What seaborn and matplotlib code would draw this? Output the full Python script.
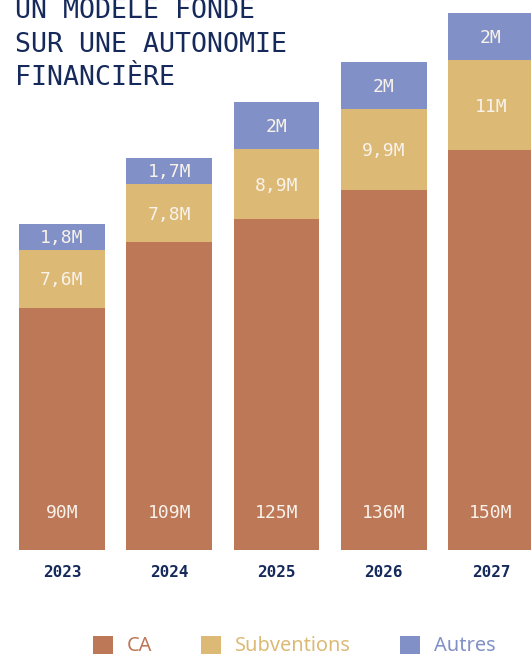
import numpy as np
import pandas as pd
import matplotlib
matplotlib.use("Agg")
import matplotlib.pyplot as plt
import matplotlib.transforms as mtransforms
from matplotlib.patches import Patch
import seaborn as sns

# ---------------- data ----------------
years = ["2023", "2024", "2025", "2026", "2027"]
series = ["CA", "Subventions", "Autres"]
ca_labels = ["90M", "109M", "125M", "136M", "150M"]
subv_labels = ["7,6M", "7,8M", "8,9M", "9,9M", "11M"]
autres_labels = ["1,8M", "1,7M", "2M", "2M", "2M"]
# segment heights as drawn in the reference (chart units ~ CA millions)
ca_height = [90.8, 115.5, 124.1, 135.0, 150.0]
subv_height = [21.8, 21.8, 26.3, 30.4, 33.8]
autres_height = [9.8, 9.8, 17.6, 17.6, 17.6]
title_lines = ["UN MODÈLE FONDÉ", "SUR UNE AUTONOMIE", "FINANCIÈRE"]

# ---------------- style ----------------
colors = ["#BD7858", "#DCBA76", "#8191C7"]
navy = "#16295B"
label_col = "#F8F2EA"
MONO = "DejaVu Sans Mono"

sns.set_style("white")
plt.rcParams["font.family"] = ["DejaVu Sans"]

W, H = 531, 656
fig = plt.figure(figsize=(W / 100, H / 100), dpi=100)
base_px = 550
ax = fig.add_axes([0, (H - base_px) / H, 1, base_px / H])

df = pd.DataFrame({
    "year": years,
    "ca": ca_height,
    "cs": np.array(ca_height) + np.array(subv_height),
    "tot": np.array(ca_height) + np.array(subv_height) + np.array(autres_height),
})

bw = 0.80
for col, c in [("tot", colors[2]), ("cs", colors[1]), ("ca", colors[0])]:
    sns.barplot(data=df, x="year", y=col, order=years, color=c, saturation=1,
                width=bw, linewidth=0, ax=ax)

ymax = 206.25
ax.set_ylim(0, ymax)
ax.set_xlim(-0.578, 4.373)
for s in ax.spines.values():
    s.set_visible(False)
ax.set_yticks([])
ax.set_xlabel("")
ax.set_ylabel("")
ax.tick_params(axis="x", length=0, pad=11)
for t in ax.get_xticklabels():
    t.set_fontfamily(MONO)
    t.set_fontweight("bold")
    t.set_fontsize(11.5)
    t.set_color(navy)

# value labels (cap-centred)
fs = 13
off = mtransforms.offset_copy(ax.transData, fig=fig, x=0, y=-0.729 * fs / 2, units="points")
px_per_unit = base_px / ymax
ca_label_y = 38.3 / px_per_unit
for i in range(len(years)):
    ax.text(i, ca_label_y, ca_labels[i], ha="center", va="baseline", transform=off,
            fontfamily=MONO, fontsize=fs, color=label_col)
    ys = ca_height[i] + subv_height[i] / 2
    ax.text(i, ys, subv_labels[i], ha="center", va="baseline", transform=off,
            fontfamily=MONO, fontsize=fs, color=label_col)
    ya = ca_height[i] + subv_height[i] + autres_height[i] / 2
    ax.text(i, ya, autres_labels[i], ha="center", va="baseline", transform=off,
            fontfamily=MONO, fontsize=fs, color=label_col, clip_on=False)

# title
for line, yb in zip(title_lines, [18.5, 52.5, 85.0]):
    fig.text(15 / W, 1 - yb / H, line, ha="left", va="baseline",
             fontfamily=MONO, fontsize=19.2, color=navy)

# legend
handles = [Patch(facecolor=c, edgecolor="none") for c in colors]
fig.legend(handles, series, loc="center left",
           bbox_to_anchor=(93 / W, (H - 646) / H), ncol=3, frameon=False,
           prop={"family": "Noto Sans", "size": 14.4},
           handlelength=1.0, handleheight=1.0, handletextpad=0.7,
           columnspacing=2.45, borderpad=0, borderaxespad=0,
           labelcolor=colors)

fig.savefig("out.png", dpi=100)
